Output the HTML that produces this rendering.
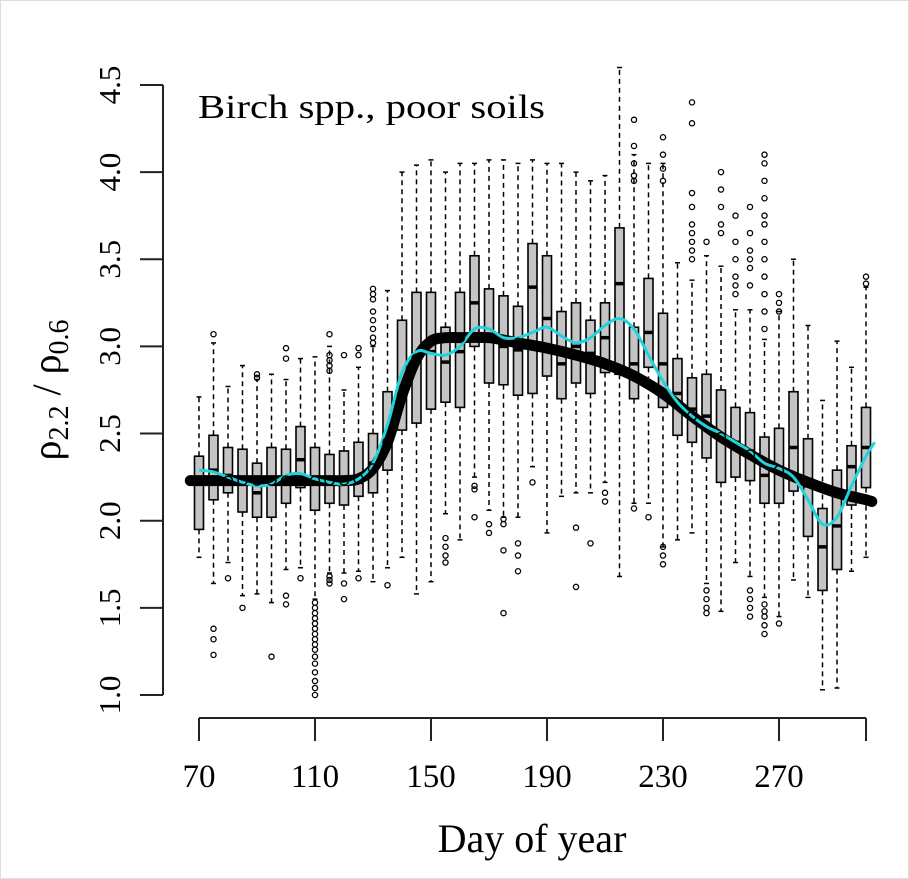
<!DOCTYPE html>
<html><head><meta charset="utf-8"><style>
html,body{margin:0;padding:0;background:#fff;}
svg{display:block;font-family:"Liberation Serif",serif;}
</style></head><body>
<svg id="chart" width="909" height="879" viewBox="0 0 909 879">
<rect x="0.5" y="0.5" width="908" height="878" fill="#fff" stroke="#ddd"/>
<g id="boxes"></g>
<g id="lines"></g>
<g id="axes"></g>
<text x="198" y="118" font-size="34" textLength="347" lengthAdjust="spacingAndGlyphs">Birch spp., poor soils</text>
<text transform="translate(60,390) rotate(-90)" text-anchor="middle" font-size="40">ρ<tspan font-size="28" dy="8">2.2</tspan><tspan dy="-8"> / ρ</tspan><tspan font-size="28" dy="8">0.6</tspan></text>
<text x="532" y="852" text-anchor="middle" font-size="40">Day of year</text>
</svg>
<script>
const days=[70,75,80,85,90,95,100,105,110,115,120,125,130,135,140,145,150,155,160,165,170,175,180,185,190,195,200,205,210,215,220,225,230,235,240,245,250,255,260,265,270,275,280,285,290,295,300];
const wLo=[1.79,1.64,1.76,1.57,1.58,1.53,1.72,1.73,1.55,1.70,1.70,1.71,1.65,1.73,1.79,1.58,1.65,2.04,1.89,2.25,2.06,2.02,2.02,2.31,1.93,2.14,2.16,2.16,2.22,1.68,2.10,2.10,1.85,1.89,1.93,1.64,1.48,1.76,1.68,1.56,1.45,1.66,1.56,1.03,1.04,1.71,1.79];
const q1=[1.95,2.12,2.16,2.05,2.02,2.02,2.10,2.19,2.06,2.10,2.09,2.14,2.16,2.29,2.52,2.56,2.64,2.68,2.65,3.00,2.79,2.78,2.72,2.73,2.83,2.70,2.79,2.73,2.85,2.84,2.70,2.88,2.65,2.49,2.45,2.36,2.22,2.25,2.23,2.10,2.10,2.17,1.91,1.60,1.72,2.09,2.19];
const med=[2.23,2.29,2.26,2.23,2.16,2.23,2.24,2.35,2.23,2.22,2.22,2.22,2.33,2.48,2.77,2.92,2.97,2.91,2.97,3.25,3.05,3.00,2.98,3.34,3.16,2.90,3.00,2.96,3.05,3.36,2.90,3.08,2.90,2.73,2.64,2.60,2.47,2.45,2.40,2.26,2.30,2.42,2.20,1.85,1.97,2.31,2.42];
const q3=[2.37,2.49,2.42,2.41,2.33,2.42,2.41,2.54,2.42,2.38,2.40,2.45,2.50,2.74,3.15,3.31,3.31,3.11,3.31,3.52,3.33,3.29,3.23,3.59,3.52,3.20,3.25,3.15,3.25,3.68,3.11,3.39,3.19,2.93,2.82,2.84,2.75,2.65,2.62,2.48,2.53,2.74,2.47,2.07,2.29,2.43,2.65];
const wHi=[2.71,3.02,2.77,2.89,2.81,2.84,2.81,2.93,2.94,3.00,2.75,2.88,3.00,3.32,4.00,4.04,4.07,4.00,4.05,4.05,4.07,4.07,4.05,4.07,4.05,4.05,4.00,3.95,3.98,4.60,4.10,4.05,4.05,3.48,3.38,3.52,3.46,3.21,3.21,3.04,3.20,3.50,3.12,2.69,3.03,2.88,3.34];
const outDays=[75,75,75,75,80,85,90,90,95,100,100,100,100,105,110,110,110,110,110,110,110,110,110,110,110,110,110,110,110,110,115,115,115,115,115,115,115,115,120,120,120,125,125,125,130,130,130,130,130,130,130,130,135,155,155,155,155,165,165,165,170,170,175,175,175,175,180,180,180,185,200,200,205,210,210,220,225,230,230,230,220,220,220,220,220,230,230,230,230,240,240,240,240,240,240,240,240,240,245,245,245,245,245,250,250,250,250,250,255,255,255,255,255,255,260,260,260,260,260,260,260,260,260,260,265,265,265,265,265,265,265,265,265,265,265,265,265,265,265,265,265,270,270,270,270,300,300];
const outVals=[3.07,1.38,1.32,1.23,1.67,1.50,2.84,2.82,1.22,2.99,2.93,1.57,1.52,1.67,1.53,1.50,1.47,1.44,1.41,1.38,1.35,1.32,1.29,1.26,1.22,1.18,1.13,1.08,1.04,1.00,3.07,2.95,2.92,2.89,2.86,1.68,1.66,1.64,2.95,1.64,1.55,2.99,2.95,1.67,3.33,3.30,3.27,3.20,3.15,3.10,3.05,3.02,1.63,1.90,1.85,1.80,1.76,2.20,2.18,2.02,1.98,1.93,2.01,1.98,1.83,1.47,1.87,1.80,1.71,2.22,1.96,1.62,1.87,2.16,2.11,2.07,2.02,1.85,1.80,1.75,4.30,4.15,4.05,3.98,3.95,4.20,4.10,4.02,3.95,4.40,4.28,3.88,3.80,3.70,3.65,3.60,3.55,3.50,3.60,1.60,1.55,1.50,1.47,4.00,3.90,3.80,3.70,3.65,3.75,3.60,3.50,3.40,3.35,3.30,3.80,3.65,3.55,3.50,3.45,3.35,1.60,1.55,1.50,1.45,4.10,4.05,3.95,3.85,3.75,3.70,3.60,3.50,3.40,3.30,3.20,3.10,1.52,1.48,1.45,1.40,1.35,3.30,3.25,3.20,1.41,3.40,3.36];
const fitDays=[67,70,75,80,85,90,95,100,105,110,115,120,125,130,135,140,145,150,155,160,170,180,190,200,210,220,230,240,250,260,270,280,290,300,302];
const fitVals=[2.23,2.23,2.23,2.23,2.23,2.23,2.23,2.23,2.23,2.23,2.23,2.23,2.24,2.30,2.45,2.72,2.93,3.03,3.05,3.05,3.05,3.02,2.99,2.95,2.90,2.83,2.73,2.60,2.48,2.38,2.29,2.22,2.16,2.12,2.11];
const loDays=[70,75,80,85,90,95,100,105,110,115,120,125,130,135,140,145,150,155,160,165,170,175,180,185,190,195,200,205,210,215,220,225,230,235,240,245,250,255,260,265,270,275,280,285,290,295,300,303];
const loVals=[2.29,2.28,2.25,2.22,2.20,2.21,2.26,2.27,2.24,2.22,2.21,2.24,2.33,2.55,2.85,2.97,2.96,2.95,3.00,3.10,3.10,3.05,3.05,3.08,3.11,3.06,3.02,3.05,3.12,3.16,3.10,2.95,2.80,2.68,2.60,2.54,2.50,2.45,2.40,2.33,2.30,2.25,2.12,1.98,2.02,2.20,2.37,2.45];
const xTicks=[70,110,150,190,230,270,300];
const xLabels=["70","110","150","190","230","270",""];
const yTicks=[1.0,1.5,2.0,2.5,3.0,3.5,4.0,4.5];
const yLabels=["1.0","1.5","2.0","2.5","3.0","3.5","4.0","4.5"];

const NS="http://www.w3.org/2000/svg";
const X=d=>199+(d-70)*2.9;
const Y=v=>695-(v-1)*174.3;
function mk(tag,attrs,parent){const e=document.createElementNS(NS,tag);for(const k in attrs)e.setAttribute(k,attrs[k]);parent.appendChild(e);return e;}
const gB=document.getElementById('boxes'),gL=document.getElementById('lines'),gA=document.getElementById('axes');
const hw=4.5;
days.forEach((d,i)=>{
  const x=X(d);
  const g=mk('g',{},gB);
  
  
  mk('line',{x1:x,x2:x,y1:Y(q3[i]),y2:Y(wHi[i]),stroke:'#000','stroke-width':1.5,'stroke-dasharray':'5,4'},g);
  mk('line',{x1:x,x2:x,y1:Y(q1[i]),y2:Y(wLo[i]),stroke:'#000','stroke-width':1.5,'stroke-dasharray':'5,4'},g);
  mk('line',{x1:x-2.5,x2:x+2.5,y1:Y(wHi[i]),y2:Y(wHi[i]),stroke:'#000','stroke-width':1.5},g);
  mk('line',{x1:x-2.5,x2:x+2.5,y1:Y(wLo[i]),y2:Y(wLo[i]),stroke:'#000','stroke-width':1.5},g);
  mk('rect',{x:x-hw,y:Y(q3[i]),width:2*hw,height:Y(q1[i])-Y(q3[i]),fill:'#c4c4c4',stroke:'#000','stroke-width':1.6},g);
  mk('line',{x1:x-hw,x2:x+hw,y1:Y(med[i]),y2:Y(med[i]),stroke:'#000','stroke-width':3.5},g);
});
outDays.forEach((d,i)=>{
  const c=mk('circle',{cx:X(d),cy:Y(outVals[i]),r:2.6,fill:'none',stroke:'#000','stroke-width':1.3},gB);
  
  
});
function smooth(xs,ys){let p=`M${X(xs[0])},${Y(ys[0])}`;for(let i=0;i<xs.length-1;i++){const x0=X(xs[Math.max(0,i-1)]),y0=Y(ys[Math.max(0,i-1)]),x1=X(xs[i]),y1=Y(ys[i]),x2=X(xs[i+1]),y2=Y(ys[i+1]),x3=X(xs[Math.min(xs.length-1,i+2)]),y3=Y(ys[Math.min(xs.length-1,i+2)]);p+=` C${x1+(x2-x0)/6},${y1+(y2-y0)/6} ${x2-(x3-x1)/6},${y2-(y3-y1)/6} ${x2},${y2}`;}return p;}
const fit=mk('path',{d:smooth(fitDays,fitVals),fill:'none',stroke:'#000','stroke-width':11,'stroke-linecap':'round'},gL);


const lo=mk('path',{d:smooth(loDays,loVals),fill:'none',stroke:'#22d3dc','stroke-width':3},gL);


fitDays.forEach((d,i)=>{
  const c=mk('circle',{cx:X(d),cy:Y(fitVals[i]),r:4.5,fill:'none',stroke:'#000','stroke-width':1.5},gL);
  
  
});
mk('line',{x1:163,x2:163,y1:Y(4.5),y2:Y(1.0),stroke:'#222','stroke-width':2},gA);
yTicks.forEach((v,i)=>{
  mk('line',{x1:140,x2:163,y1:Y(v),y2:Y(v),stroke:'#222','stroke-width':2},gA);
  const t=mk('text',{transform:`translate(120,${Y(v)}) rotate(-90)`,'text-anchor':'middle','font-size':31},gA);
  
  
  t.textContent=yLabels[i];
});
mk('line',{x1:X(70),x2:X(300),y1:718,y2:718,stroke:'#222','stroke-width':2},gA);
xTicks.forEach((d,i)=>{
  mk('line',{x1:X(d),x2:X(d),y1:718,y2:741,stroke:'#222','stroke-width':2},gA);
  const t=mk('text',{x:X(d),y:787,'text-anchor':'middle','font-size':33},gA);
  
  
  t.textContent=xLabels[i];
});
</script>
</body></html>
